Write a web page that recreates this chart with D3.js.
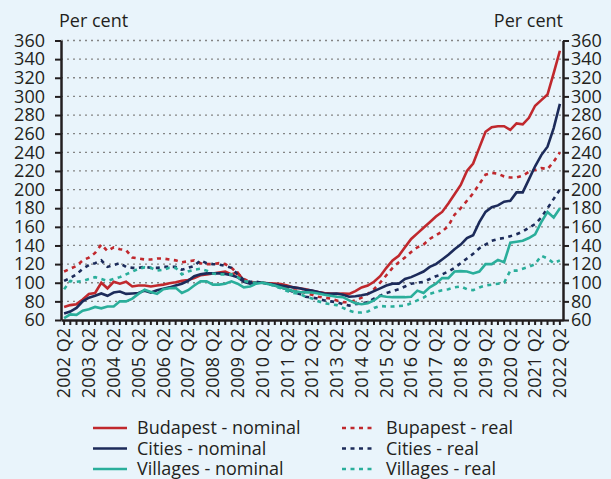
<!DOCTYPE html>
<html>
<head>
<meta charset="utf-8">
<script src="https://cdn.jsdelivr.net/npm/d3@7"></script>
<style>
  html, body { margin: 0; padding: 0; background: #e9f4fb; }
  svg { display: block; font-family: "Open Sans", sans-serif; }
</style>
</head>
<body>
<script>
// quarters 2002 Q2 .. 2022 Q2
const quarters = [];
for (let yr = 2002; yr <= 2022; yr++) {
    for (let q = 1; q <= 4; q++) {
        if ((yr > 2002 || q >= 2) && (yr < 2022 || q <= 2)) quarters.push(yr + " Q" + q);
    }
}

const yTicks = [60, 80, 100, 120, 140, 160, 180, 200, 220, 240, 260, 280, 300, 320, 340, 360];

const budapestNominal = [74,76,77,82,88,89,100,94,101,99, 101,96,97,97,96,97,98,99.5,100.5,102,
    103,105,108,109,110,111,112,109,111,102, 100,100,100,99.5,99,98.5,97,95,94,93,
    91.5,90,89,88.5,88,88.5,88,91,95,97, 101,107,116,124,129,138,147,153,159,165,
    171,176,185,195,205,220,228,245,262,267, 268,268,264,271,270,277,290,296,302,325, 349];
const budapestReal = [112,115,118,124,127,132,141,134,138,136, 135,127,126,125,125,126,126,125,124,122,
    123,124,121,120,120,121,120,116,110,104, 101,100,100,99,98,96,94,92,91,89,
    87,85,84,83,81,79,79,81,84,88, 93,100,108,116,122,127,133,138,141,147,
    151,155,161,173,180,188,196,206,216,218, 217,214,213,213,215,219,221,223,222,230, 240];
const citiesNominal = [67,69,73,80,84,86,88.5,86,89.5,90.5, 88,88.5,89,91.5,89.5,92,93.5,95,97,99,
    102,107,109,110,110,110,109.5,108,106,101, 99,100,100,99,98,97,96,95,94,92.5,
    91.5,90,88.5,88,88.5,87,85,85.5,86.5,88, 91,94,97,99,99,104,106,109,112,117,
    120,125,130,136,141,148,151,165,176,181, 183,187,188,197,197,211,225,237,246,266, 292];
const citiesReal = [102,105,109,115,119,121,124,117,119,121, 117,116,116,117,116,116,117,117,117,114,
    116,118,124,121,120,119.5,118,116,109,103, 101,101,100,99,97,95,93,90,88,85,
    84,83,81,80,79,77,75.5,77,78,79, 83,86,89,91,93,96,99,100,101,104,
    107,109,112,116,121,126,131,137,141,145, 147,148,150,152,155,159,163,170,180,190, 200];
const villagesNominal = [62,66,65.5,70,71.5,74,72.5,74.5,74.5,80, 80,83,88,92.5,90,88,93,94,94.5,89,
    92,97,101.5,101.5,98,98,99,101.5,99,95, 96,99,100,98.5,97,95,93,91,90,89.7,
    89.5,88.5,87,86,85,84.5,81,78,77,78, 81,86,85,84.5,84.5,84.5,85,91.5,89,95,
    99,105,105,112,112.5,112,110,112,120,120, 124.5,122,143,144,145,148,152,165,176,170, 180];
const villagesReal = [93,102,101,102,104,106,104,102,104,106, 109,112,115,116.5,116,113,114,116,116,109,
    112,114,115,113,110,109,109,109,106,102, 100.5,100,100,99,96,94,91,89,88,85,
    83,80,78,77,76,73,70,68,68,69, 73,75,74.5,74.5,75,75.5,78,81,84,88,
    90,92,93,95,96,93,92,95,97,98, 99,100,113,113,115,117,120,129,126,121, 124];

const red = "#c0282d", navy = "#1c2b5a", teal = "#2aae9b";

const series = [
    { name: "Budapest - nominal", values: budapestNominal, color: red, dash: null },
    { name: "Bupapest - real", values: budapestReal, color: red, dash: "4,4.5" },
    { name: "Cities - nominal", values: citiesNominal, color: navy, dash: null },
    { name: "Cities - real", values: citiesReal, color: navy, dash: "4,4.5" },
    { name: "Villages - nominal", values: villagesNominal, color: teal, dash: null },
    { name: "Villages - real", values: villagesReal, color: teal, dash: "4,4.5" }
];

const width = 611, height = 479;
const plotLeft = 61, plotRight = 563, plotTop = 40.5, plotBottom = 320;

const svg = d3.select("body").append("svg")
    .attr("width", width)
    .attr("height", height);

svg.append("rect").attr("width", width).attr("height", height).attr("fill", "#e9f4fb");

const x = d3.scaleBand().domain(quarters).range([plotLeft, plotRight]);
const y = d3.scaleLinear().domain([60, 360]).range([plotBottom, plotTop]);
const cx = d => x(d) + x.bandwidth() / 2;

// grid
svg.append("g")
    .selectAll("line")
    .data(yTicks.filter(d => d > 60))
    .join("line")
    .attr("x1", plotLeft).attr("x2", plotRight)
    .attr("y1", d => y(d)).attr("y2", d => y(d))
    .attr("stroke", "#858585")
    .attr("stroke-width", 1.3)
    .attr("stroke-dasharray", "2,4");

// lines
const line = d3.line()
    .x((d, i) => cx(quarters[i]))
    .y(d => y(d));

svg.append("g")
    .selectAll("path")
    .data(series)
    .join("path")
    .attr("d", d => line(d.values))
    .attr("fill", "none")
    .attr("stroke", d => d.color)
    .attr("stroke-width", 2.6)
    .attr("stroke-dasharray", d => d.dash);

// axes
function styleAxis(g) {
    g.select(".domain").attr("stroke", "#231f20").attr("stroke-width", 2.5);
    g.selectAll(".tick line").attr("stroke", "#231f20").attr("stroke-width", 2);
    g.selectAll(".tick text").attr("fill", "#231f20").style("font-size", "18px")
        .style("font-family", "'Open Sans', sans-serif");
}

svg.append("g")
    .attr("transform", `translate(${plotLeft},0)`)
    .call(d3.axisLeft(y).tickValues(yTicks).tickSize(6).tickPadding(10).tickSizeOuter(0))
    .call(styleAxis);

svg.append("g")
    .attr("transform", `translate(${plotRight},0)`)
    .call(d3.axisRight(y).tickValues(yTicks).tickSize(6).tickPadding(2).tickSizeOuter(0))
    .call(styleAxis);

const xAxis = svg.append("g")
    .attr("transform", `translate(0,${plotBottom})`)
    .call(d3.axisBottom(x).tickSize(5).tickSizeOuter(0)
        .tickFormat(d => d.endsWith("Q2") ? d : ""))
    .call(styleAxis);

xAxis.selectAll(".tick text")
    .attr("transform", "rotate(-90)")
    .attr("text-anchor", "end")
    .attr("x", -8)
    .attr("y", 0)
    .attr("dy", "0.35em");

// unit labels
svg.append("text").attr("x", 59).attr("y", 27)
    .style("font-size", "18px").attr("fill", "#231f20").text("Per cent");
svg.append("text").attr("x", 563).attr("y", 27).attr("text-anchor", "end")
    .style("font-size", "18px").attr("fill", "#231f20").text("Per cent");

// legend
const legend = svg.append("g")
    .selectAll("g")
    .data(series)
    .join("g")
    .attr("transform", (d, i) => `translate(${i % 2 ? 342 : 93},${428 + Math.floor(i / 2) * 20.5})`);

legend.append("line")
    .attr("x1", 0).attr("x2", 34)
    .attr("stroke", d => d.color)
    .attr("stroke-width", 2.6)
    .attr("stroke-dasharray", d => d.dash);

legend.append("text")
    .attr("x", 44)
    .attr("dy", "0.35em")
    .style("font-size", "18px")
    .attr("fill", "#231f20")
    .text(d => d.name);
</script>
</body>
</html>
